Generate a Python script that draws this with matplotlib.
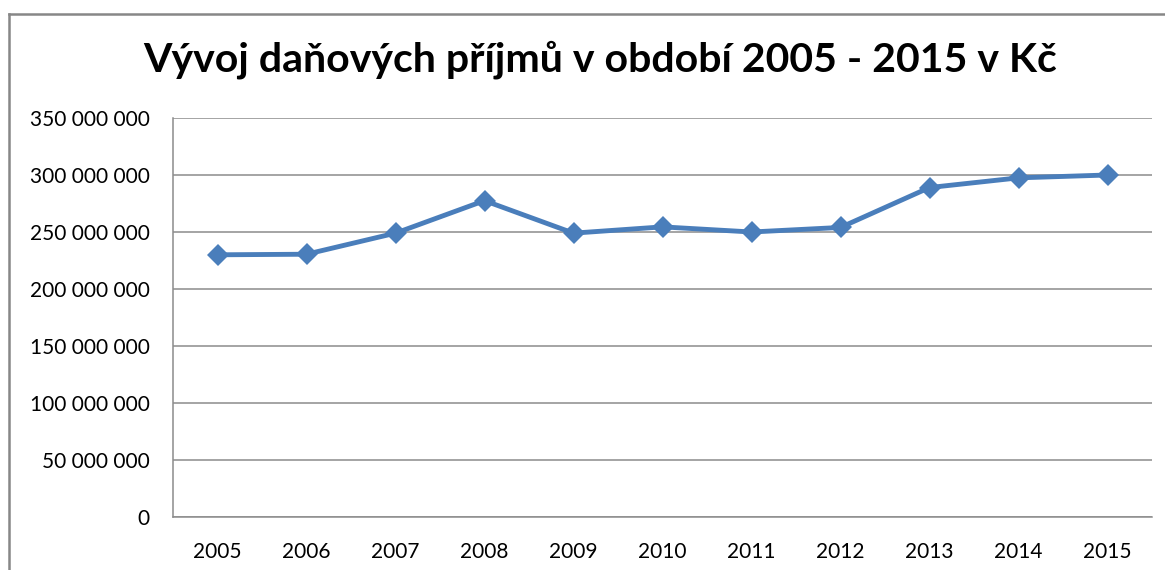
import numpy as np
import matplotlib
matplotlib.use('Agg')
import matplotlib.pyplot as plt
from matplotlib.lines import Line2D
from matplotlib.ticker import FuncFormatter

years = ['2005', '2006', '2007', '2008', '2009', '2010',
         '2011', '2012', '2013', '2014', '2015']
# tax revenue in CZK
revenue = [230.0e6, 230.5e6, 249.0e6, 277.5e6, 249.0e6, 254.5e6,
           250.0e6, 254.0e6, 289.0e6, 297.5e6, 300.0e6]

plt.rcParams['font.family'] = ['Lato', 'DejaVu Sans']

W, H = 1165, 570
fig = plt.figure(figsize=(W / 100, H / 100), dpi=100)

# chart area border (goes off the picture at right and bottom)
fig.add_artist(Line2D([8.5 / W, 1.01], [1 - 14 / H, 1 - 14 / H],
                      transform=fig.transFigure, color='#878787', lw=1.8))
fig.add_artist(Line2D([8.5 / W, 8.5 / W], [1 - 14 / H, -0.01],
                      transform=fig.transFigure, color='#878787', lw=1.8))

ax = fig.add_axes([173 / W, 53 / H, (1152 - 173) / W, (517 - 118) / H])

pos = np.arange(len(years))
ax.plot(pos, revenue, color='#4A7EBB', lw=3.5, marker='D', markersize=11,
        markeredgewidth=0, zorder=3)

ax.set_xlim(-0.5, len(years) - 0.5)
ax.set_ylim(0, 350e6)
ax.set_yticks(np.arange(0, 350e6 + 1, 50e6))
ax.yaxis.set_major_formatter(FuncFormatter(lambda v, p: '{:,}'.format(int(v)).replace(',', ' ')))
ax.set_xticks(pos)
ax.set_xticklabels(years)

ax.grid(axis='y', color='#8c8c8c', lw=1.1)
ax.set_axisbelow(True)
for s in ['top', 'right']:
    ax.spines[s].set_visible(False)
for s in ['left', 'bottom']:
    ax.spines[s].set_color('#8c8c8c')
    ax.spines[s].set_linewidth(1.1)
ax.tick_params(axis='both', length=0, labelsize=15, colors='#000000')
ax.tick_params(axis='y', pad=17)
ax.tick_params(axis='x', pad=18)

fig.text(0.515, 1 - 60 / H, 'Vývoj daňových příjmů v období 2005 - 2015 v Kč',
         ha='center', va='center', fontsize=29.5, fontweight='bold')

fig.savefig('out.png', dpi=100)
